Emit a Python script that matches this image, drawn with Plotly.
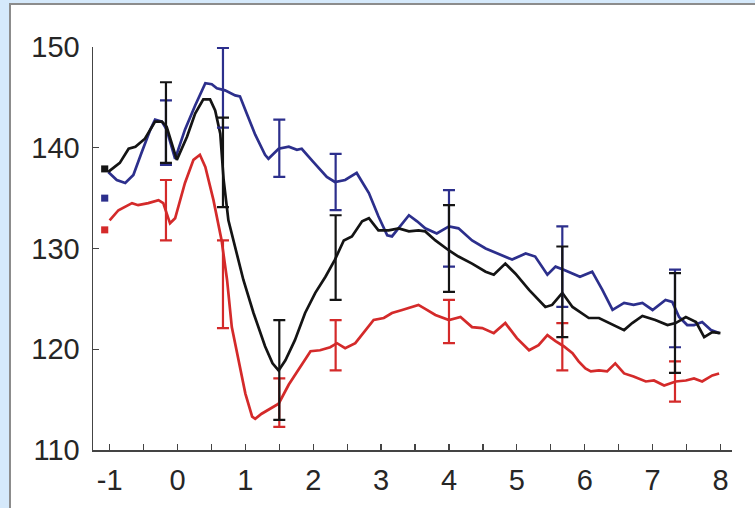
import plotly.graph_objects as go

# ---- data ----
black_x = [-1.02, -0.85, -0.72, -0.62, -0.48, -0.33, -0.23, -0.16, -0.01, 0.14, 0.26, 0.38, 0.48, 0.555, 0.63,
           0.68, 0.75, 0.85, 0.97, 1.12, 1.29, 1.40, 1.49, 1.59, 1.73, 1.88, 2.03, 2.18, 2.32, 2.45, 2.57, 2.72,
           2.82, 2.96, 3.11, 3.26, 3.41, 3.55, 3.65, 3.80, 4.0, 4.14, 4.34, 4.54, 4.66, 4.83, 4.98, 5.18, 5.42,
           5.52, 5.67, 5.82, 6.06, 6.21, 6.36, 6.58, 6.70, 6.85, 7.04, 7.22, 7.34, 7.49, 7.64, 7.76, 7.88, 8.0]
black_y = [137.6, 138.5, 139.9, 140.1, 140.9, 142.6, 142.6, 142.1, 138.8, 141.1, 143.4, 144.8, 144.8, 143.7, 141.4,
           136.8, 132.8, 130.2, 126.9, 123.6, 120.3, 118.6, 117.9, 118.9, 120.9, 123.6, 125.6, 127.2, 128.9, 130.8,
           131.2, 132.7, 133.0, 131.8, 131.8, 132.0, 131.7, 131.8, 131.7, 130.8, 129.8, 129.2, 128.5, 127.7, 127.4,
           128.5, 127.5, 125.9, 124.2, 124.4, 125.6, 124.2, 123.1, 123.1, 122.6, 121.9, 122.6, 123.3, 122.9, 122.4,
           122.6, 123.2, 122.7, 121.2, 121.7, 121.6]

blue_x = [-1.02, -0.895, -0.77, -0.65, -0.53, -0.40, -0.33, -0.23, -0.16, -0.035, 0.11, 0.26, 0.41, 0.505, 0.58,
          0.70, 0.85, 0.92, 1.02, 1.145, 1.29, 1.34, 1.49, 1.64, 1.76, 1.83, 2.0, 2.20, 2.32, 2.47, 2.64, 2.82,
          2.96, 3.09, 3.16, 3.28, 3.41, 3.53, 3.65, 3.82, 4.0, 4.14, 4.34, 4.54, 4.73, 4.93, 5.13, 5.27, 5.45,
          5.57, 5.69, 5.82, 5.93, 6.11, 6.26, 6.41, 6.58, 6.72, 6.85, 7.0, 7.19, 7.29, 7.39, 7.51, 7.61, 7.73,
          7.86, 7.98]
blue_y = [137.6, 136.8, 136.5, 137.3, 139.5, 141.8, 142.8, 142.6, 141.8, 138.9, 141.8, 144.2, 146.4, 146.3, 145.9,
          145.7, 145.2, 145.1, 143.4, 141.3, 139.3, 138.9, 139.9, 140.1, 139.8, 139.9, 138.6, 137.1, 136.6, 136.8,
          137.5, 135.5, 133.2, 131.3, 131.2, 132.2, 133.3, 132.7, 132.0, 131.5, 132.2, 132.0, 130.8, 130.0, 129.5,
          128.9, 129.5, 129.2, 127.4, 128.2, 127.9, 127.5, 127.2, 127.7, 125.9, 123.9, 124.6, 124.4, 124.6, 123.9,
          124.9, 124.7, 123.2, 122.4, 122.4, 122.7, 121.9, 121.6]

red_x = [-1.0, -0.87, -0.67, -0.58, -0.43, -0.28, -0.21, -0.11, -0.035, 0.11, 0.235, 0.33, 0.41, 0.53, 0.65, 0.73,
         0.80, 0.90, 1.0, 1.10, 1.145, 1.24, 1.34, 1.49, 1.64, 1.78, 1.96, 2.10, 2.25, 2.35, 2.47, 2.62, 2.77, 2.89,
         3.04, 3.16, 3.31, 3.46, 3.55, 3.65, 3.80, 4.0, 4.17, 4.34, 4.49, 4.66, 4.83, 5.0, 5.18, 5.32, 5.45, 5.57,
         5.69, 5.82, 5.91, 6.01, 6.09, 6.21, 6.33, 6.45, 6.58, 6.72, 6.90, 7.02, 7.17, 7.34, 7.49, 7.61, 7.73, 7.88,
         7.98]
red_y = [132.8, 133.8, 134.5, 134.3, 134.5, 134.8, 134.5, 132.5, 133.0, 136.5, 138.8, 139.3, 138.1, 134.8, 130.8,
         126.9, 122.2, 118.9, 115.6, 113.3, 113.1, 113.6, 114.0, 114.6, 116.5, 117.9, 119.8, 119.9, 120.2, 120.6,
         120.1, 120.6, 121.9, 122.9, 123.1, 123.6, 123.9, 124.2, 124.4, 124.0, 123.4, 122.9, 123.2, 122.2, 122.1,
         121.6, 122.6, 121.1, 119.9, 120.4, 121.4, 120.8, 120.3, 119.6, 118.8, 118.1, 117.8, 117.9, 117.8, 118.6,
         117.6, 117.3, 116.8, 116.9, 116.4, 116.8, 116.9, 117.1, 116.8, 117.4, 117.6]

# error bars: x position, centre, half-length
err_x = [-0.17, 0.67, 1.5, 2.33, 4.0, 5.67, 7.33]
black_err_c = [142.5, 138.55, 117.95, 129.1, 130.0, 125.7, 122.6]
black_err = [4.0, 4.45, 4.95, 4.2, 4.3, 4.5, 4.95]
blue_err_c = [141.5, 145.95, 139.95, 136.6, 132.0, 128.2, 124.05]
blue_err = [3.2, 3.95, 2.85, 2.8, 3.8, 4.0, 3.85]
red_err_c = [133.8, 126.45, 114.7, 120.4, 122.75, 120.25, 116.8]
red_err = [3.0, 4.35, 2.4, 2.5, 2.15, 2.35, 2.0]

# baseline markers at left
baseline_x = [-1.125, -1.02]
baseline_vals = {"black": 137.9, "blue": 135.0, "red": 131.85}

x_ticks = [-1, 0, 1, 2, 3, 4, 5, 6, 7, 8]
x_tick_text = ["-1", "0", "1", "2", "3", "4", "5", "6", "7", "8"]
x_minor = [-0.5, 0.5, 1.5, 2.5, 3.5, 4.5, 5.5, 6.5, 7.5]
y_ticks = [110, 120, 130, 140, 150]

COL = {"black": "#141414", "blue": "#2c2f8c", "red": "#d42a2a"}
BG = "#d5e9fb"

fig = go.Figure()

series = [("blue", blue_x, blue_y), ("red", red_x, red_y), ("black", black_x, black_y)]
for name, xs, ys in series:
    fig.add_trace(go.Scatter(x=xs, y=ys, mode="lines",
                             line=dict(color=COL[name], width=2.7), hoverinfo="skip"))

for name, c, e in [("red", red_err_c, red_err), ("blue", blue_err_c, blue_err), ("black", black_err_c, black_err)]:
    fig.add_trace(go.Scatter(x=err_x, y=c, mode="markers",
                             marker=dict(size=1, color="rgba(0,0,0,0)"),
                             error_y=dict(type="data", array=e, visible=True, color=COL[name],
                                          thickness=2.2, width=6), hoverinfo="skip"))

for name, v in baseline_vals.items():
    fig.add_trace(go.Scatter(x=baseline_x, y=[v, v], mode="lines",
                             line=dict(color=COL[name], width=7), hoverinfo="skip"))

W, H = 755, 508
ml, mr, mt, mb = 93, 23, 47, 58
pw, ph = W - ml - mr, H - mt - mb

def px_x(p):
    return (p - ml) / pw

def px_y(p):
    return (H - mb - p) / ph

fig.add_shape(type="rect", xref="paper", yref="paper",
              x0=px_x(10), x1=px_x(800), y0=px_y(560), y1=px_y(4),
              fillcolor="white", line=dict(color="#8c8c8c", width=2), layer="below")

fig.update_layout(
    width=W, height=H,
    margin=dict(l=ml, r=mr, t=mt, b=mb),
    paper_bgcolor=BG,
    plot_bgcolor="white",
    showlegend=False,
    font=dict(family="Liberation Sans, Arial, sans-serif", size=29, color="#262626"),
)
fig.update_xaxes(range=[-1.245, 8.17], tickvals=x_ticks, ticktext=x_tick_text, ticks="inside", ticklen=6,
                 tickwidth=1.3, tickcolor="#444", showline=True, linecolor="#444", linewidth=1.5,
                 showgrid=False, zeroline=False,
                 minor=dict(tickvals=x_minor, ticks="inside", ticklen=6, tickwidth=1.3, tickcolor="#444"),
                 ticklabelstandoff=4)
fig.update_yaxes(range=[110, 150], tickvals=y_ticks, ticks="inside", ticklen=6, tickwidth=1.3,
                 tickcolor="#444", showline=True, linecolor="#444", linewidth=1.5, showgrid=False,
                 zeroline=False, ticklabelstandoff=6)

fig.write_html("out.html", config={"displayModeBar": False, "staticPlot": True},
               post_script="document.body.style.margin='0px';document.body.style.background='%s';" % BG)
